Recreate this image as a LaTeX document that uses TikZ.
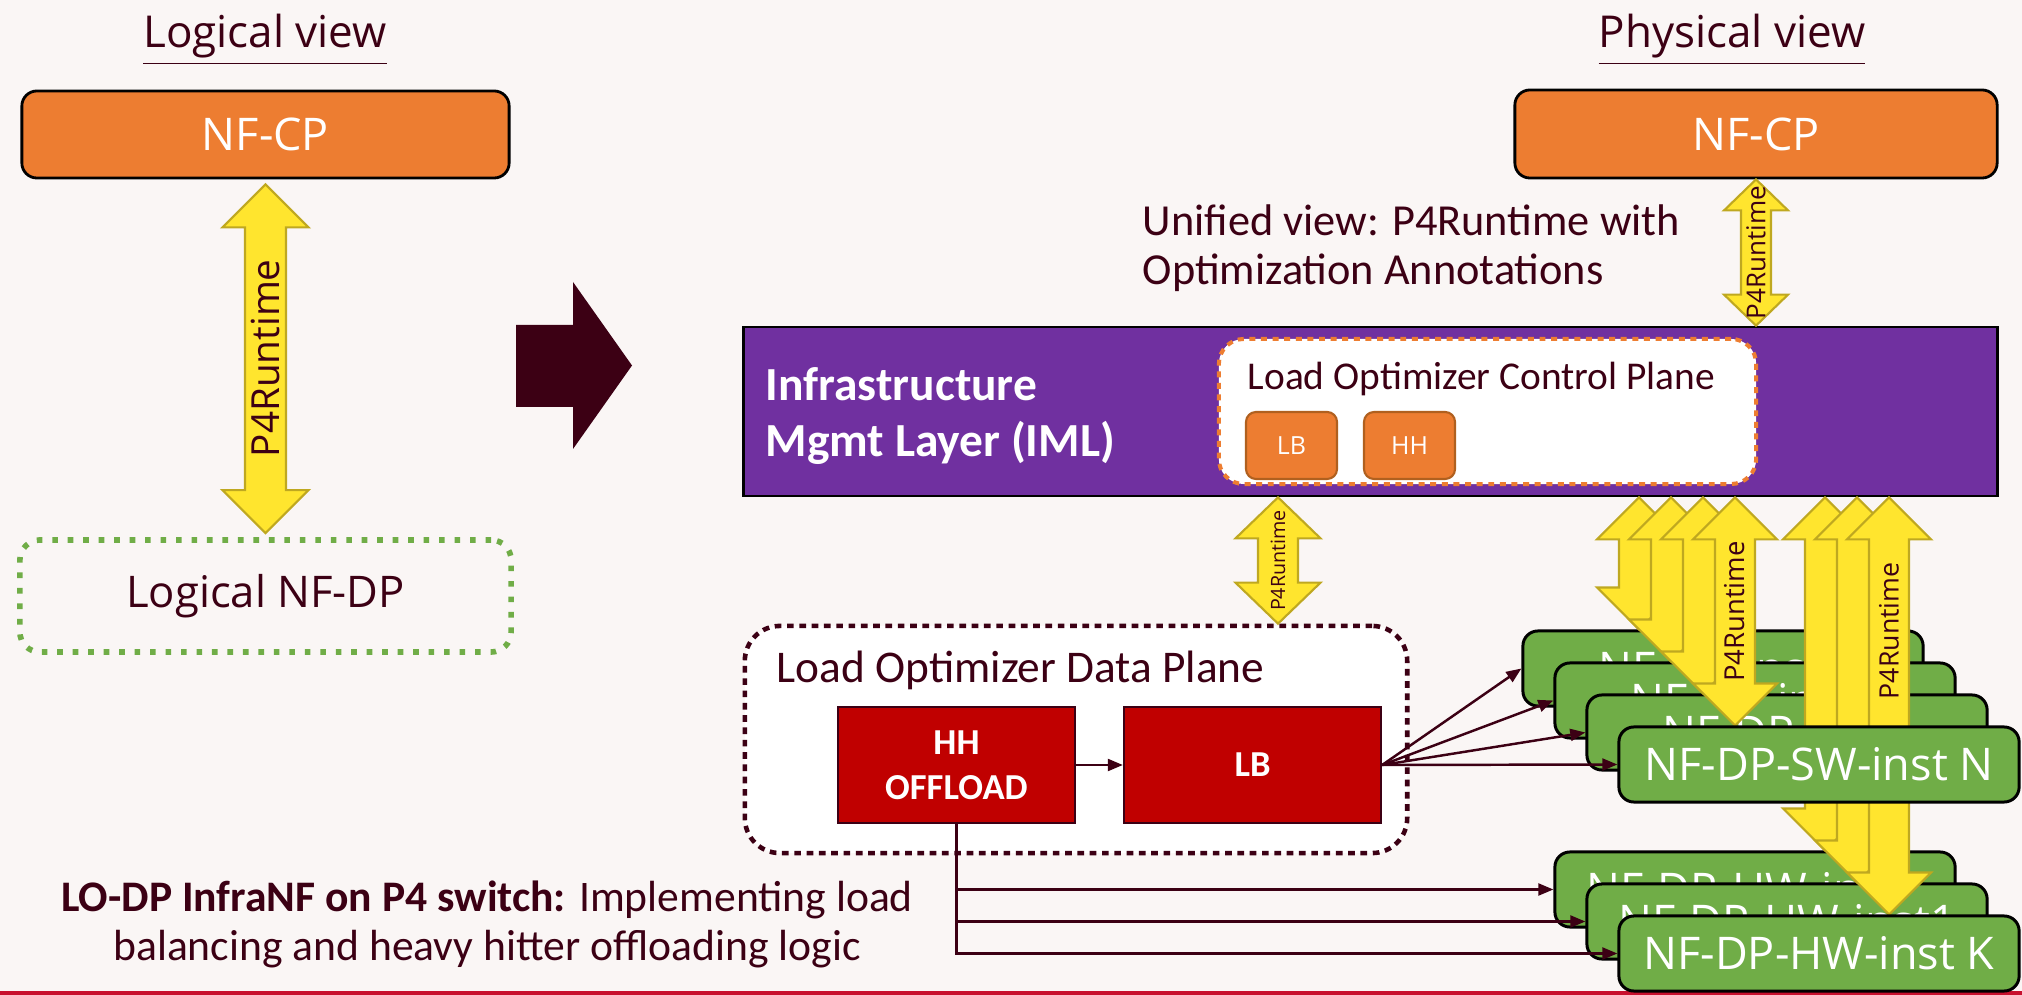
\documentclass[tikz,border=0pt]{standalone}
\usepackage{fontspec}
\setmainfont{Open Sans}
\newfontfamily\condfont{Carlito}
\usetikzlibrary{calc,arrows.meta}

\definecolor{slidebg}{RGB}{250,246,245}
\definecolor{txt}{RGB}{60,0,20}
\definecolor{nforange}{RGB}{237,125,49}
\definecolor{orangedark}{RGB}{176,96,31}
\definecolor{imlpurple}{RGB}{112,48,160}
\definecolor{nfgreen}{RGB}{112,173,71}
\definecolor{nfred}{RGB}{192,0,0}
\definecolor{pfyellow}{RGB}{255,229,46}
\definecolor{pfgold}{RGB}{191,168,32}
\definecolor{slideline}{RGB}{200,16,46}

\pgfdeclarelayer{front}
\pgfsetlayers{main,front}

% vertical block arrow with two heads: top tip, bottom tip, half shaft, half head, head length
\newcommand{\blockdarrow}[6][]{%
  \draw[pfarrow,#1] #2 -- ($#2+(#5,#6)$) -- ($#2+(#4,#6)$) -- ($#3+(#4,-#6)$) -- ($#3+(#5,-#6)$) -- #3
    -- ($#3+(-#5,-#6)$) -- ($#3+(-#4,-#6)$) -- ($#2+(-#4,#6)$) -- ($#2+(-#5,#6)$) -- cycle;}

\begin{document}
\begin{tikzpicture}[
  x=0.01cm, y=-0.01cm,
  title/.style={text=txt, anchor=base, font=\fontsize{12.5}{15}\selectfont},
  plaintxt/.style={anchor=base west, inner sep=0pt, align=left, text=txt},
  cpbox/.style={rectangle, rounded corners=0.15cm, draw=black, line width=0.8pt, fill=nforange, text=white, font=\fontsize{12.8}{15}\selectfont, minimum width=4.87cm, minimum height=0.87cm},
  ldpbox/.style={rectangle, rounded corners=0.2cm, draw=nfgreen, line width=1.6pt, dash pattern=on 1.6pt off 2.8pt, text=txt, font=\fontsize{12.4}{15}\selectfont, minimum width=4.91cm, minimum height=1.12cm},
  inst/.style={rectangle, rounded corners=0.15cm, draw=black, line width=0.85pt, fill=nfgreen, text=white, font=\fontsize{12.8}{15}\selectfont, minimum width=4cm, minimum height=0.75cm},
  cpdot/.style={rectangle, rounded corners=0.25cm, fill=white, draw=nforange, line width=1.15pt, dash pattern=on 1.7pt off 1.6pt, minimum width=5.37cm, minimum height=1.45cm},
  lodpdot/.style={rectangle, rounded corners=0.35cm, fill=white, draw=txt, line width=1.3pt, dash pattern=on 1.9pt off 1.6pt, minimum width=6.62cm, minimum height=2.27cm},
  smallbox/.style={rectangle, rounded corners=0.1cm, draw=orangedark, line width=0.6pt, fill=nforange, text=white, font=\fontsize{7.1}{8.5}\selectfont, minimum width=0.91cm, minimum height=0.67cm},
  redbox/.style={rectangle, draw=txt, line width=0.6pt, fill=nfred, text=white, align=center, font=\condfont\bfseries\fontsize{10.4}{12.8}\selectfont, minimum height=1.16cm},
  pfarrow/.style={fill=pfyellow, draw=pfgold, line width=0.6pt},
  p4lbl/.style={rotate=90, text=txt, inner sep=0pt},
  conn/.style={draw=txt, line width=0.7pt, -{Triangle[length=4.3pt,width=3.4pt]}}
]

\fill[slidebg] (0,0) rectangle (2022,995);
\useasboundingbox (0,0) rectangle (2022,995);
\fill[slideline] (0,991) rectangle (2022,995);

% Logical view
\node[title] (ltitle) at (265,48) {\underline{Logical view}};
\node[cpbox] (nfcpL) at (265.5,134.5) {NF-CP};
\node[ldpbox] (ldp) at (265.5,596) {Logical NF-DP};
\blockdarrow{([yshift=-0.05cm]nfcpL.south)}{([yshift=0.04cm]ldp.north)}{20.5}{43}{43}
\path (nfcpL.south) -- (ldp.north) node[midway, p4lbl, font=\fontsize{11}{13}\selectfont] {P4Runtime};

% transition arrow
\fill[txt] (516,325) -- (573,325) -- (573,282) -- (632,365.5) -- (573,449) -- (573,407) -- (516,407) -- cycle;

% Physical view
\node[title] (ptitle) at (1732,48) {\underline{Physical view}};
\node[cpbox, minimum width=4.82cm, minimum height=0.88cm] (nfcpR) at (1756,134) {NF-CP};
\node[plaintxt, font=\condfont\fontsize{12.6}{14.2}\selectfont] (unified) at (1142,285) {Unified view: P4Runtime with\\Optimization Annotations};

\node[rectangle, draw=black, line width=0.75pt, fill=imlpurple, minimum width=12.53cm, minimum height=1.69cm] (iml) at (1370.5,411.5) {};
\node[plaintxt, text=white, font=\condfont\bfseries\fontsize{13.5}{16.2}\selectfont] (imltxt) at (765,457) {Infrastructure\\Mgmt Layer (IML)};
\node[cpdot] (locp) at (1487.5,411.5) {};
\node[plaintxt, font=\condfont\fontsize{11.2}{13}\selectfont] (locptxt) at (1247,390) {Load Optimizer Control Plane};
\node[smallbox] (cplb) at (1291.5,445.5) {LB};
\node[smallbox] (cphh) at (1409.5,445.5) {HH};

\blockdarrow{(nfcpR.south)}{(nfcpR.south |- iml.north)}{15}{32}{31}
\path (nfcpR.south) -- (nfcpR.south |- iml.north) node[midway, p4lbl, font=\fontsize{7.4}{9}\selectfont] {P4Runtime};

% Load optimizer data plane
\node[lodpdot] (lodp) at (1076,739.5) {};
\node[plaintxt, font=\condfont\fontsize{12.9}{15}\selectfont] (lodptxt) at (776,683) {Load Optimizer Data Plane};
\node[redbox, minimum width=2.37cm] (hhoff) at (956.5,765) {HH\\OFFLOAD};
\node[redbox, minimum width=2.57cm] (lbdp) at (1252.5,765) {LB};

\coordinate (p4mid) at (1278,0);
\blockdarrow{(p4mid |- iml.south)}{(p4mid |- lodp.north)}{20}{42.5}{41}
\path (p4mid |- iml.south) -- (p4mid |- lodp.north) node[midway, p4lbl, font=\fontsize{5.6}{7}\selectfont] {P4Runtime};

\node[anchor=base, align=center, text=txt, font=\condfont\fontsize{12.4}{13.7}\selectfont] (lodpnote) at (487,960) {\textbf{LO-DP InfraNF on P4 switch:} Implementing load\\balancing and heavy hitter offloading logic};

% NF instances
\node[inst] (swone) at (1723,668.5) {NF-DP-inst1};
\node[inst] (swtwo) at (1755,700.5) {NF-DP-inst2};
\node[inst] (swthree) at (1787,732.5) {NF-DP-inst3};
\node[inst] (hwone) at (1755,889.5) {NF-DP-HW-inst2};
\node[inst] (hwtwo) at (1787,921.5) {NF-DP-HW-inst1};

\begin{pgfonlayer}{front}
\node[inst] (swn) at (1819,764.5) {NF-DP-SW-inst N};
\node[inst] (hwk) at (1819,953.5) {NF-DP-HW-inst K};

% Main flow arrows
\draw[conn] (hhoff) -- (lbdp);
\draw[conn] (lbdp.east) -- (swone.west);
\draw[conn] (lbdp.east) -- (swtwo.west);
\draw[conn] (lbdp.east) -- (swthree.west);
\draw[conn] (lbdp.east) -- (swn.west);
\draw[conn] (hhoff.south) |- (hwone.west);
\draw[conn] (hhoff.south) |- (hwtwo.west);
\draw[conn] (hhoff.south) |- (hwk.west);
\end{pgfonlayer}

% P4Runtime to instances
\coordinate (ga1) at (1639,0);
\coordinate (ga2) at (1671,0);
\coordinate (ga3) at (1703,0);
\coordinate (ga4) at (1735,0);
\blockdarrow{(ga1 |- iml.south)}{(ga1 |- swone.north)}{20}{42}{42}
\blockdarrow{(ga2 |- iml.south)}{(ga2 |- swtwo.north)}{20}{42}{42}
\blockdarrow{(ga3 |- iml.south)}{(ga3 |- swthree.north)}{20}{42}{42}
\blockdarrow{(ga4 |- iml.south)}{(ga4 |- swn.north)}{20}{42}{42}
\path (ga4 |- iml.south) -- (ga4 |- swn.north) node[midway, p4lbl, font=\fontsize{7.8}{9}\selectfont] {P4Runtime};

\coordinate (gb1) at (1825,0);
\coordinate (gb2) at (1857,0);
\coordinate (gb3) at (1889,0);
\blockdarrow{(gb1 |- iml.south)}{(gb1 |- hwone.north)}{20}{42}{42}
\blockdarrow{(gb2 |- iml.south)}{(gb2 |- hwtwo.north)}{20}{42}{42}
\blockdarrow{(gb3 |- iml.south)}{(gb3 |- hwk.north)}{20}{42}{42}
\path (gb3 |- iml.south) -- (gb3 |- hwk.north) node[pos=0.32, p4lbl, font=\fontsize{7.6}{9}\selectfont] {P4Runtime};

\end{tikzpicture}
\end{document}
